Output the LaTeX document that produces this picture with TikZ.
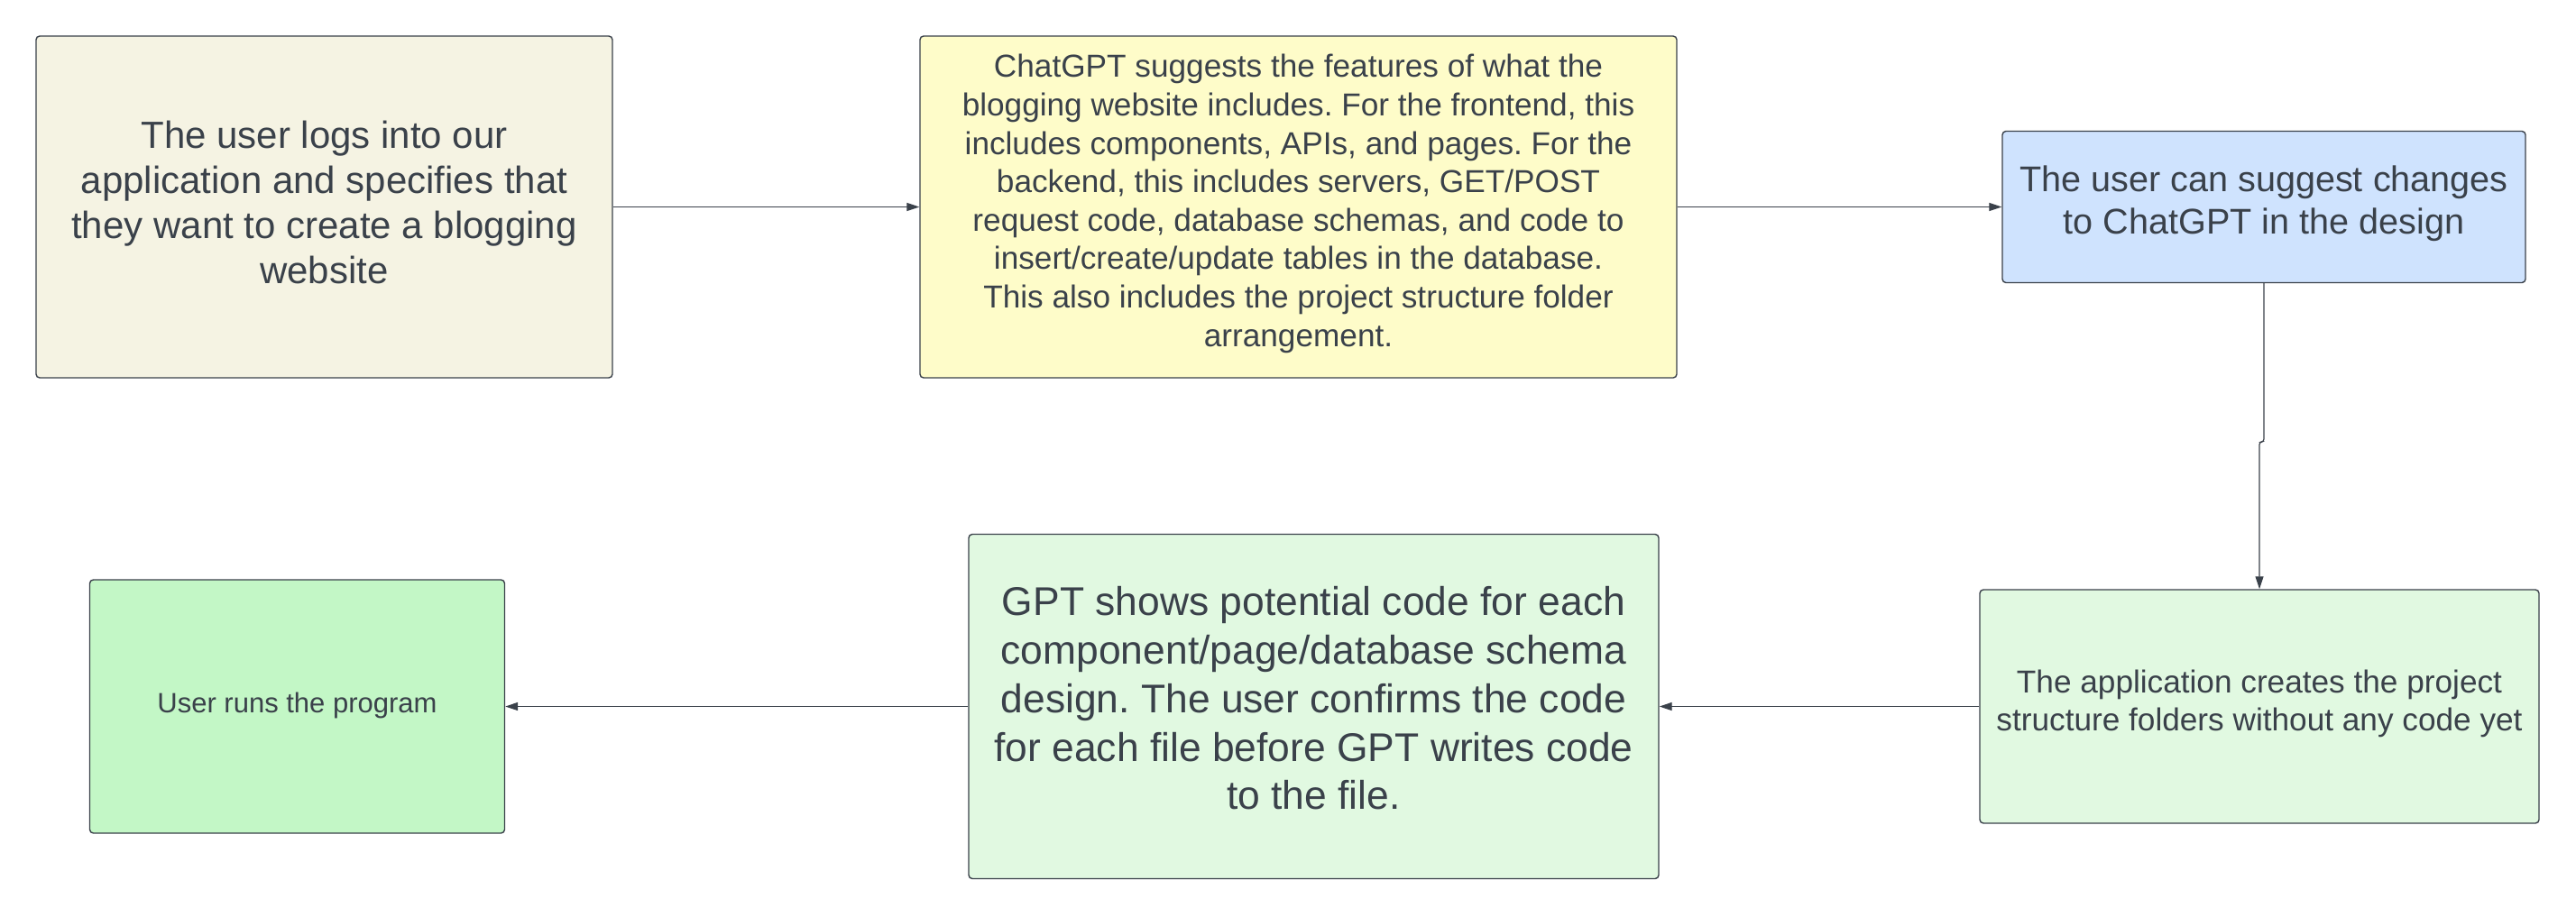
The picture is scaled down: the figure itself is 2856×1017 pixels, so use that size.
\documentclass[tikz,border=0pt]{standalone}
\usepackage{fontspec}
\setmainfont{Liberation Sans}
\usetikzlibrary{arrows.meta}
\definecolor{ink}{HTML}{3A414A}
\definecolor{cream}{HTML}{F5F3E3}
\definecolor{lemon}{HTML}{FEFCC9}
\definecolor{sky}{HTML}{CFE3FE}
\definecolor{mint}{HTML}{E1F9E1}
\definecolor{leaf}{HTML}{C3F7C6}
\frenchspacing
\begin{document}
\begin{tikzpicture}[x=0.5pt,y=-0.5pt,
        box/.style={draw=ink, rounded corners=2pt, line width=0.7pt, inner sep=0pt},
        txt/.style={text=ink, align=center, inner sep=0pt},
        flow/.style={draw=ink, line width=0.6pt, -{Triangle[length=7pt,width=4.5pt]}}]
    \useasboundingbox (0,0) rectangle (2856,1017);
    \node[box, fill=cream, minimum width=319.5pt, minimum height=189.5pt] (login) at (359.5,229.5) {};
    \node[box, fill=lemon, minimum width=419.5pt, minimum height=189.5pt] (features) at (1439.5,229.5) {};
    \node[box, fill=sky, minimum width=290pt, minimum height=84pt] (suggest) at (2510,229.5) {};
    \node[box, fill=mint, minimum width=310pt, minimum height=129.5pt] (created) at (2505,783.5) {};
    \node[box, fill=mint, minimum width=382.5pt, minimum height=191pt] (shows) at (1456.5,783.5) {};
    \node[box, fill=leaf, minimum width=230pt, minimum height=140.5pt] (runs) at (329.5,783.5) {};
    \node[txt, font=\fontsize{21}{25}\selectfont, yshift=2.7pt] at (login)
        {The user logs into our\\application and specifies that\\they want to create a blogging\\website};
    \node[txt, font=\fontsize{17.6}{21.3}\selectfont, yshift=1.8pt] at (features)
        {ChatGPT suggests the features of what the\\blogging website includes. For the frontend, this\\includes components, APIs, and pages. For the\\backend, this includes servers, GET/POST\\request code, database schemas, and code to\\insert/create/update tables in the database.\\This also includes the project structure folder\\arrangement.};
    \node[txt, font=\fontsize{19.8}{23.7}\selectfont, yshift=1.8pt] at (suggest)
        {The user can suggest changes\\to ChatGPT in the design};
    \node[txt, font=\fontsize{17.6}{21}\selectfont, yshift=1.8pt] at (created)
        {The application creates the project\\structure folders without any code yet};
    \node[txt, font=\fontsize{22.2}{26.9}\selectfont, yshift=4.5pt] at (shows)
        {GPT shows potential code for each\\component/page/database schema\\design. The user confirms the code\\for each file before GPT writes code\\to the file.};
    \node[txt, font=\fontsize{15.5}{18.6}\selectfont, yshift=0.5pt] at (runs)
        {User runs the program};
    \coordinate (jog) at (2505,490);
    \draw[flow] (login) -- (features);
    \draw[flow] (features) -- (suggest);
    \draw[flow, rounded corners=1.5pt] (suggest.south) -- (suggest.south |- jog) -- (jog) -- (created.north);
    \draw[flow] (created) -- (shows);
    \draw[flow] (shows) -- (runs);
\end{tikzpicture}
\end{document}
